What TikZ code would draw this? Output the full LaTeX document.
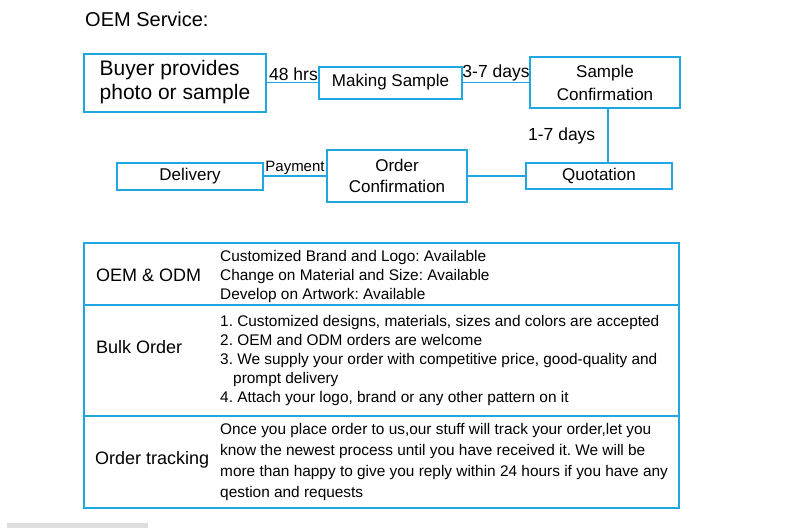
\documentclass[tikz,border=0pt]{standalone}
\usepackage{fontspec}
\setmainfont{Liberation Sans}
\usetikzlibrary{positioning}
\definecolor{oemblue}{HTML}{1EA7E1}
\tikzset{
  block/.style   = {draw=oemblue, line width=2pt, inner sep=0pt, align=center,
                    font=\fontsize{17}{23}\selectfont},
  tag/.style     = {font=\fontsize{17.5}{20}\selectfont, inner sep=1pt},
  link/.style    = {draw=oemblue, line width=1.5pt},
  rowbox/.style  = {draw=oemblue, line width=2pt, minimum width=595pt, inner sep=0pt},
  rowhead/.style = {anchor=west, inner sep=0pt, font=\fontsize{18}{22}\selectfont},
  rowtext/.style = {anchor=west, inner sep=0pt, align=left,
                    font=\fontsize{15.4}{19}\selectfont}
}
\frenchspacing

\begin{document}
\begin{tikzpicture}[x=1pt, y=-1pt]
    \useasboundingbox (0,0) rectangle (799,528);
    \node[anchor=west, inner sep=0pt, font=\fontsize{20}{22}\selectfont] (title) at (85,19) {OEM Service:};

    % flow of the order
    \node[block, minimum width=182pt, minimum height=58pt, align=left,
          font=\fontsize{21}{24}\selectfont] (buyer) at (175,82.5) {Buyer provides\\photo or sample};
    \node[block, minimum width=143pt, minimum height=32pt] (making) at (390.5,82.5) {Making Sample};
    \node[block, minimum width=150pt, minimum height=51pt] (sampconf) at (605,82.5) {Sample\\Confirmation};
    \node[block, minimum width=146pt, minimum height=26pt] (quote) at (599,176) {Quotation};
    \node[block, minimum width=140pt, minimum height=52pt, font=\fontsize{17}{21}\selectfont] (ordconf) at (397,176) {Order\\Confirmation};
    \node[block, minimum width=146pt, minimum height=27pt] (delivery) at (190,176) {Delivery};

    \draw[link] (buyer) -- node[tag, above, xshift=1pt] {48 hrs} (making);
    \draw[link] (making) -- node[tag, above] {3-7 days} (sampconf);
    \draw[link] ([xshift=3pt]sampconf.south) -- node[tag, left=11pt] {1-7 days} ([xshift=3pt]sampconf.south |- quote.north);
    \draw[link] (quote) -- (ordconf);
    \draw[link] (ordconf) -- node[tag, above, font=\fontsize{15}{18}\selectfont] {Payment} (delivery);

    % table of services
    \node[rowbox, minimum height=62pt] (row1) at (381.5,274) {};
    \node[rowbox, minimum height=111pt] (row2) at (381.5,360.5) {};
    \node[rowbox, minimum height=92pt] (row3) at (381.5,462) {};

    \node[rowhead] (head1) at (96,275) {OEM \& ODM};
    \node[rowhead] (head2) at (96,347) {Bulk Order};
    \node[rowhead] (head3) at (95,460) {Order tracking};

    \node[rowtext] (text1) at (220,277) {Customized Brand and Logo: Available\\
        Change on Material and Size: Available\\Develop on Artwork: Available};
    \node[rowtext] (text2) at (220,361) {1. Customized designs, materials, sizes and colors are accepted\\
        2. OEM and ODM orders are welcome\\
        3. We supply your order with competitive price, good-quality and\\
        \hspace*{13pt}prompt delivery\\
        4. Attach your logo, brand or any other pattern on it};
    \node[rowtext, font=\fontsize{15.4}{21}\selectfont] (text3) at (220,462.5) {Once you place order to us,our stuff will track your order,let you\\
        know the newest process until you have received it. We will be\\
        more than happy to give you reply within 24 hours if you have any\\
        qestion and requests};

    \fill[black!13] (7,523) rectangle (148,528);
\end{tikzpicture}
\end{document}
